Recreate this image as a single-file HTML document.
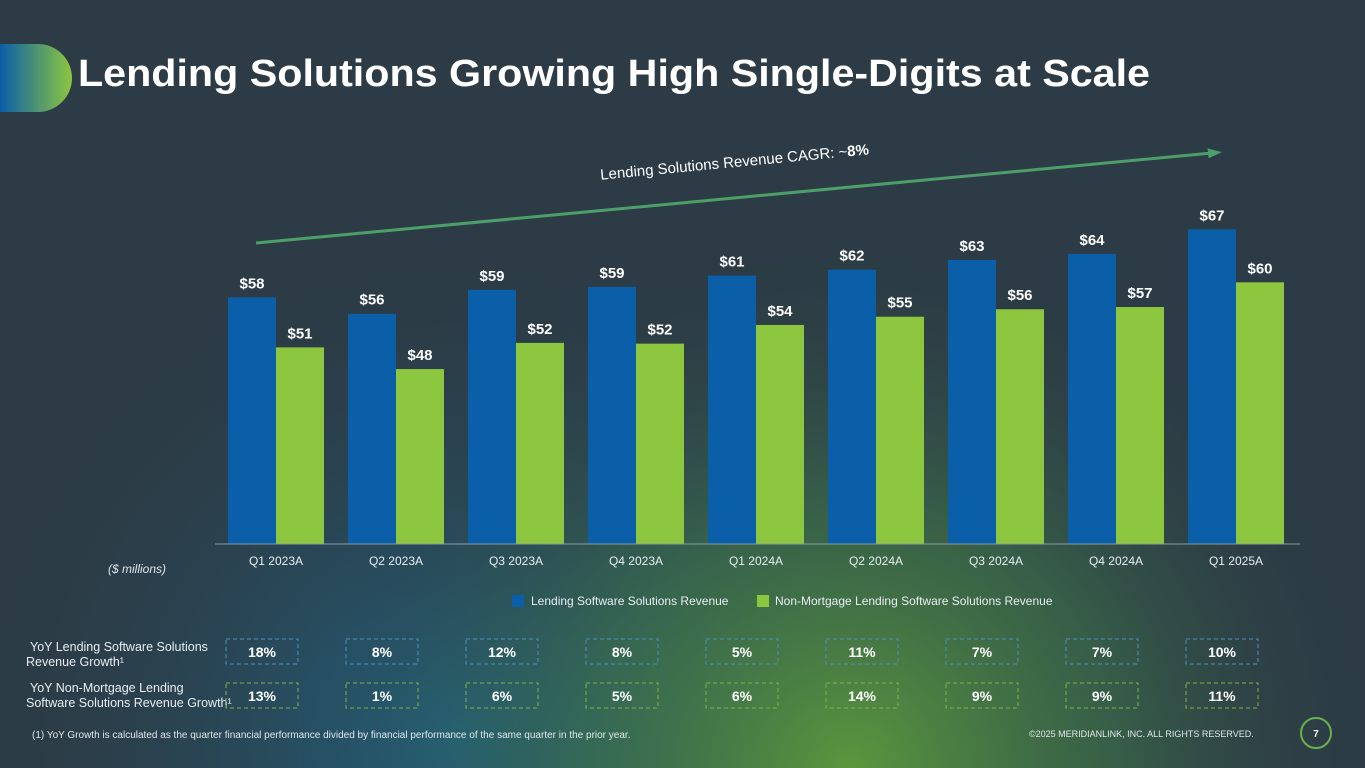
<!DOCTYPE html>
<html><head><meta charset="utf-8"><style>
html,body{margin:0;padding:0;width:1365px;height:768px;overflow:hidden;background:#2c3b45}
svg{display:block}
text{font-family:"Liberation Sans",sans-serif}
</style></head><body>
<svg id="chart" width="1365" height="768" viewBox="0 0 1365 768">
<defs>
<radialGradient id="g1" cx="850" cy="770" r="540" gradientUnits="userSpaceOnUse">
<stop offset="0" stop-color="#5e9c3c" stop-opacity="0.95"/><stop offset="0.5" stop-color="#3f7a4a" stop-opacity="0.55"/><stop offset="1" stop-color="#2c3b45" stop-opacity="0"/></radialGradient>
<radialGradient id="g2" cx="460" cy="740" r="520" gradientUnits="userSpaceOnUse">
<stop offset="0" stop-color="#1f6a8a" stop-opacity="0.85"/><stop offset="1" stop-color="#2c3b45" stop-opacity="0"/></radialGradient>
<linearGradient id="tab" x1="0" x2="1" y1="0" y2="0"><stop offset="0" stop-color="#0b5ea8"/><stop offset="1" stop-color="#8dc63f"/></linearGradient>
<marker id="arr" markerWidth="14" markerHeight="12" refX="4" refY="6" orient="auto" markerUnits="userSpaceOnUse"><path d="M0,1 L14,6 L0,11 Z" fill="#4e9e6a"/></marker>
</defs>
<rect width="1365" height="768" fill="#2c3b45"/>
<rect width="1365" height="768" fill="url(#g2)"/>
<rect width="1365" height="768" fill="url(#g1)"/>
<path d="M0,44 H38 A34,34 0 0 1 38,112 H0 Z" fill="url(#tab)"/>
<text x="78" y="86" font-size="38" font-weight="bold" fill="#fff" textLength="1072" lengthAdjust="spacingAndGlyphs">Lending Solutions Growing High Single-Digits at Scale</text>
<line x1="256" y1="243" x2="1212" y2="153" stroke="#4e9e6a" stroke-width="3" marker-end="url(#arr)"/>
<text transform="translate(735,167) rotate(-5.4)" text-anchor="middle" font-size="15" fill="#fff">Lending Solutions Revenue CAGR: ~<tspan font-weight="bold">8%</tspan></text>
<g id="bars"></g>
<line x1="215" y1="544" x2="1300" y2="544" stroke="#8a9aa4" stroke-width="1"/>
<text x="108" y="573" font-size="12" font-style="italic" fill="#e0e6ea">($ millions)</text>
<rect x="512" y="595" width="12" height="12" fill="#0b5ea8"/>
<text x="531" y="605" font-size="12" fill="#e8eef2">Lending Software Solutions Revenue</text>
<rect x="757" y="595" width="12" height="12" fill="#8dc63f"/>
<text x="775" y="605" font-size="12" fill="#e8eef2">Non-Mortgage Lending Software Solutions Revenue</text>
<text font-size="12.5" fill="#e8eef2"><tspan x="30" y="651"> YoY Lending Software Solutions</tspan><tspan x="26" y="666">Revenue Growth¹</tspan></text>
<text font-size="12.5" fill="#e8eef2"><tspan x="30" y="692"> YoY Non-Mortgage Lending</tspan><tspan x="26" y="707">Software Solutions Revenue Growth¹</tspan></text>
<g id="boxes"></g>
<text x="32" y="738" font-size="10" fill="#e0e6ea">(1) YoY Growth is calculated as the quarter financial performance divided by financial performance of the same quarter in the prior year.</text>
<text x="1029" y="737" font-size="9" fill="#e0e6ea">©2025 MERIDIANLINK, INC. ALL RIGHTS RESERVED.</text>
<circle cx="1316" cy="733" r="15" fill="none" stroke="#6ab04c" stroke-width="2"/>
<text x="1316" y="737" font-size="10" font-weight="bold" fill="#fff" text-anchor="middle">7</text>
</svg>
<script>
const categories=["Q1 2023A","Q2 2023A","Q3 2023A","Q4 2023A","Q1 2024A","Q2 2024A","Q3 2024A","Q4 2024A","Q1 2025A"];
const lendingRevenue=[58.0,55.8,59.0,59.4,60.9,61.7,63.0,63.8,67.1];
const nonMortgageRevenue=[51.3,48.4,51.9,51.8,54.3,55.4,56.4,56.7,60.0];
const lendingGrowth=["18%","8%","12%","8%","5%","11%","7%","7%","10%"];
const nonMortgageGrowth=["13%","1%","6%","5%","6%","14%","9%","9%","11%"];
const NS="http://www.w3.org/2000/svg";
const yMin=25,yMax=67,base=544,topPx=230;
function y(v){return base-(v-yMin)/(yMax-yMin)*(base-topPx);}
function gx(i){return 228+i*120;}
const bw=48;
function mk(tag,attrs,parent){const e=document.createElementNS(NS,tag);for(const k in attrs)e.setAttribute(k,attrs[k]);parent.appendChild(e);return e;}
const bars=document.getElementById('bars'),boxes=document.getElementById('boxes');
categories.forEach((c,i)=>{
  const x=gx(i);
  [[lendingRevenue[i],x,'#0b5ea8','lending'],[nonMortgageRevenue[i],x+bw,'#8dc63f','nonmortgage']].forEach(([v,bx,col,s])=>{
    const r=mk('rect',{x:bx,y:y(v),width:bw,height:base-y(v),fill:col},bars);
    
    
    const t=mk('text',{x:bx+bw/2,y:y(v)-9,'text-anchor':'middle','font-size':'15','font-weight':'bold',fill:'#fff'},bars);
    t.textContent='$'+Math.round(v);
    
    
  });
  const tl=mk('text',{x:x+bw,y:565,'text-anchor':'middle','font-size':'12',fill:'#e8eef2'},bars);
  tl.textContent=c;
  
  
  [[lendingGrowth[i],639,'#4f8fc0','lending'],[nonMortgageGrowth[i],683,'#7fb24a','nonmortgage']].forEach(([v,by,col,s])=>{
    const b=mk('rect',{x:x-2,y:by,width:72,height:25,fill:'none',stroke:col,'stroke-width':'1','stroke-dasharray':'4,3'},boxes);
    
    
    const t=mk('text',{x:x+34,y:by+18,'text-anchor':'middle','font-size':'14','font-weight':'bold',fill:'#fff'},boxes);
    t.textContent=v;
    
    
  });
});
</script>
</body></html>
